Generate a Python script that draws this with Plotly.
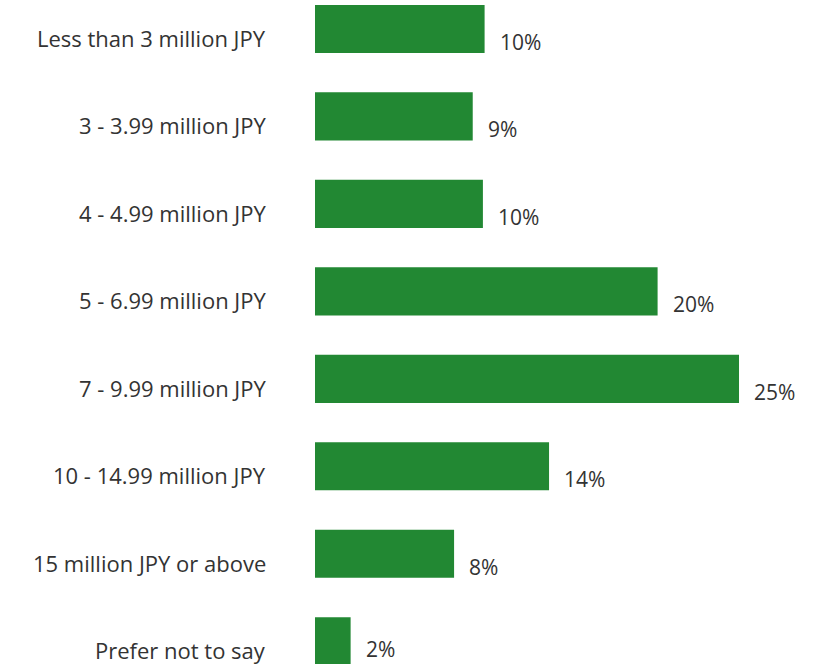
import plotly.graph_objects as go

# Household income distribution (share of respondents, %)
categories = [
    "Less than 3 million JPY",
    "3 - 3.99 million JPY",
    "4 - 4.99 million JPY",
    "5 - 6.99 million JPY",
    "7 - 9.99 million JPY",
    "10 - 14.99 million JPY",
    "15 million JPY or above",
    "Prefer not to say",
]
shares = [10.0, 9.3, 9.9, 20.2, 25.0, 13.8, 8.2, 2.1]

BAR_COLOR = "#228833"
TEXT_COLOR = "#333333"
FONT = "Open Sans"

fig = go.Figure(
    go.Bar(
        x=shares,
        y=categories,
        orientation="h",
        marker=dict(color=BAR_COLOR, line=dict(width=0)),
        hoverinfo="skip",
    )
)

annotations = []
last = len(categories) - 1
for i, (cat, val) in enumerate(zip(categories, shares)):
    # value label at the bar end, sitting a little low
    annotations.append(dict(
        x=val, y=cat, xref="x", yref="y",
        text=f"{val:.0f}%", showarrow=False,
        xanchor="left", yanchor="middle",
        xshift=13, yshift=-13 if i < last else -8,
        font=dict(family=FONT, size=21, color=TEXT_COLOR),
    ))
    # category label to the left of the plot
    annotations.append(dict(
        x=0, y=cat, xref="paper", yref="y",
        text=cat, showarrow=False,
        xanchor="right", yanchor="middle",
        xshift=-47, yshift=-9,
        font=dict(family=FONT, size=22, color=TEXT_COLOR),
    ))

fig.update_layout(
    width=825,
    height=664,
    margin=dict(l=315, r=0, t=0, b=0),
    paper_bgcolor="white",
    plot_bgcolor="white",
    bargap=0.45,
    showlegend=False,
    annotations=annotations,
    xaxis=dict(range=[0, 30.07], visible=False, fixedrange=True),
    yaxis=dict(
        categoryorder="array",
        categoryarray=categories,
        range=[7.26, -0.331],
        showticklabels=False,
        showgrid=False,
        zeroline=False,
        showline=False,
        ticks="",
        fixedrange=True,
    ),
)

fig.write_html("out.html")
